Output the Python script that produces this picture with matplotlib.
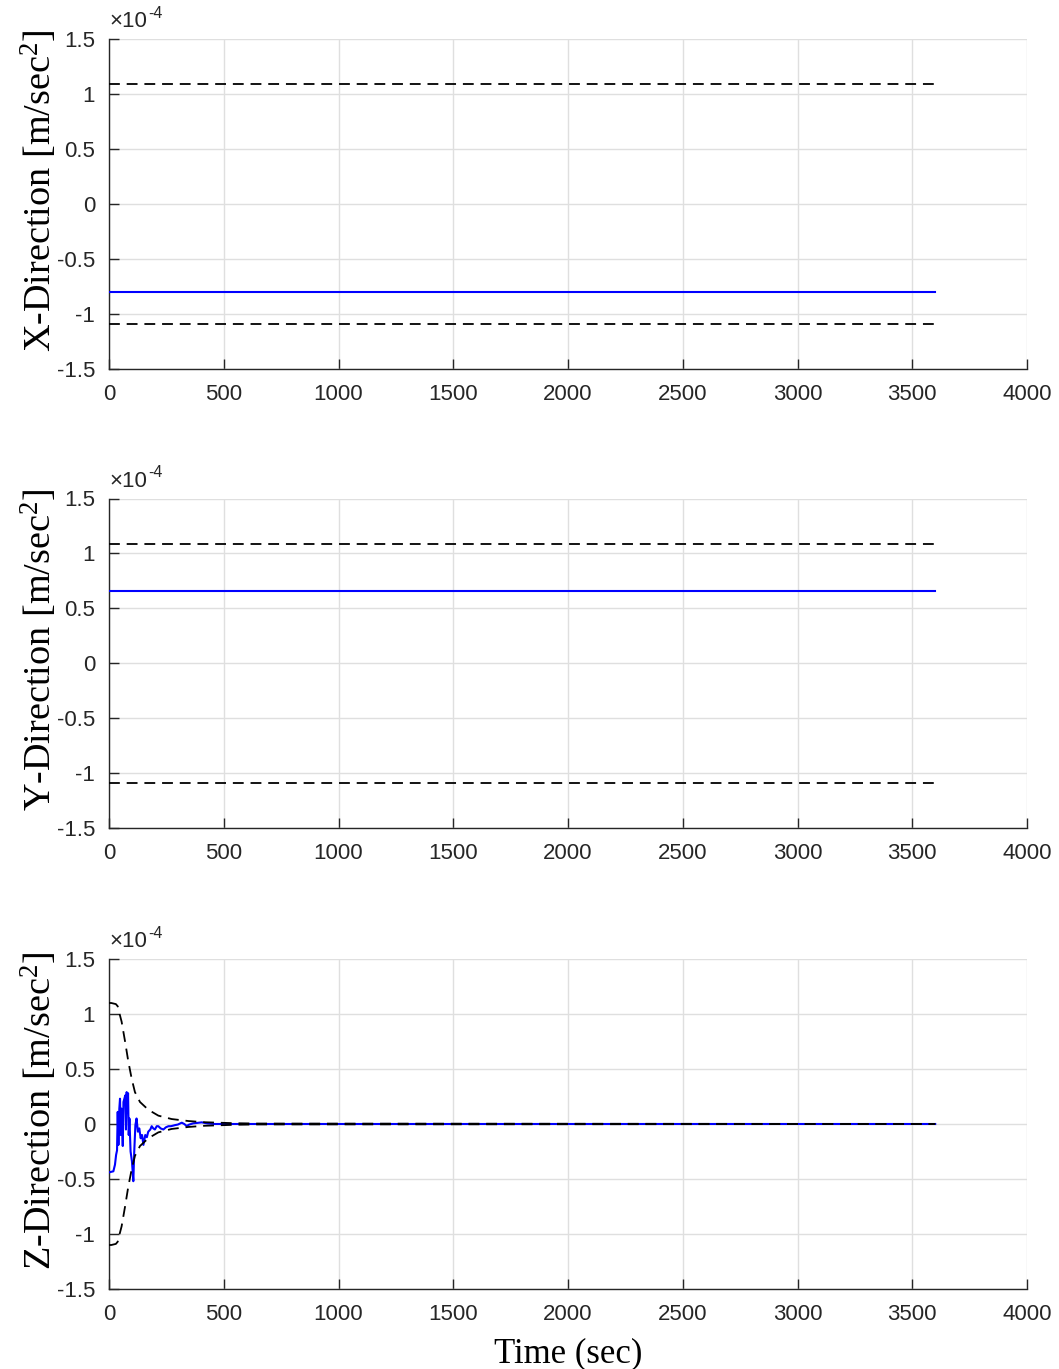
import matplotlib
matplotlib.use("Agg")
import matplotlib.pyplot as plt
import numpy as np

# ---- data (values in units of 1e-4 m/sec^2) ----
t_const = [0, 3600]
x_est = [-0.80, -0.80]
x_bound = [1.09, 1.09]
y_est = [0.66, 0.66]
y_bound = [1.09, 1.09]

z_t = [0, 19, 26, 31, 35, 38, 41, 45, 48, 51,
       54, 57, 60, 63, 67, 71, 74, 77, 80, 83,
       86, 89, 94, 100, 106, 110, 115, 120, 126, 132,
       138, 144, 150, 158, 165, 171, 180, 186, 193, 200,
       208, 215, 225, 237, 248, 259, 270, 288, 300, 317,
       328, 338, 350, 367, 385, 404, 430, 460, 500, 3600]
z_est = [-0.44, -0.43, -0.37, -0.28, -0.24, 0.11, -0.19, 0.14, 0.23, -0.10,
         0.14, -0.01, -0.20, 0.20, 0.23, 0.26, -0.05, 0.29, 0.10, 0.28,
         -0.10, 0.05, -0.25, -0.34, -0.52, -0.25, -0.01, 0.05, -0.07, -0.04,
         -0.13, -0.10, -0.19, -0.10, -0.12, -0.07, -0.05, -0.02, -0.04, -0.05,
         -0.02, -0.02, -0.04, -0.05, -0.03, -0.02, -0.02, -0.01, -0.005, 0.012,
         0.0, -0.018, -0.005, 0.006, 0.01, 0.015, 0.005, 0.0, 0.0, 0.0]

zb_t = [0, 10, 20, 30, 38, 45, 55, 70, 84, 99, 113, 135, 171, 215, 273,
        346, 418, 476, 550, 650, 3600]
zb_upper = [1.10, 1.10, 1.095, 1.09, 1.07, 1.01, 0.93, 0.75, 0.57, 0.41, 0.29,
            0.20, 0.13, 0.076, 0.045, 0.027, 0.016, 0.012, 0.007, 0.004, 0.0]
zb_lower = [-v for v in zb_upper]

ylabels = ["X-Direction [m/sec$\\mathregular{^2}$]",
           "Y-Direction [m/sec$\\mathregular{^2}$]",
           "Z-Direction [m/sec$\\mathregular{^2}$]"]
xticks = [0, 500, 1000, 1500, 2000, 2500, 3000, 3500, 4000]
yticks = [-1.5, -1, -0.5, 0, 0.5, 1, 1.5]
yticklabels = ["-1.5", "-1", "-0.5", "0", "0.5", "1", "1.5"]

W, H = 1059, 1369
fig = plt.figure(figsize=(W / 100, H / 100), dpi=100)

left = 109 / W
width = (1027 - 109) / W
tops = [39, 498.5, 959]
bottoms = [369, 828, 1289]

sans = "Liberation Sans"
serif = "Liberation Serif"
axcol = "#262626"
gridcol = "#dfdfdf"

series = [
    (t_const, x_est, t_const, x_bound, [-b for b in x_bound]),
    (t_const, y_est, t_const, y_bound, [-b for b in y_bound]),
    (z_t, z_est, zb_t, zb_upper, zb_lower),
]

for i in range(3):
    b = 1 - bottoms[i] / H
    h = (bottoms[i] - tops[i]) / H
    ax = fig.add_axes([left, b, width, h])
    te, ve, tb, up, lo = series[i]
    ax.plot(te, ve, color="#0000ff", lw=1.5, zorder=3)
    ax.plot(tb, up, color="black", lw=1.3, dashes=(6, 3.8), zorder=4)
    ax.plot(tb, lo, color="black", lw=1.3, dashes=(6, 3.8), zorder=4)
    ax.set_xlim(0, 4000)
    ax.set_ylim(-1.5, 1.5)
    ax.set_xticks(xticks)
    ax.set_xticklabels([str(v) for v in xticks], fontfamily=sans, fontsize=16)
    ax.set_yticks(yticks)
    ax.set_yticklabels(yticklabels, fontfamily=sans, fontsize=16)
    ax.grid(True, color=gridcol, lw=1.0)
    ax.set_axisbelow(True)
    for s in ["top", "right"]:
        ax.spines[s].set_visible(False)
    for s in ["left", "bottom"]:
        ax.spines[s].set_color(axcol)
        ax.spines[s].set_linewidth(1.0)
    ax.tick_params(axis="both", direction="in", length=7.2, width=1.0,
                   color=axcol, labelcolor=axcol)
    ax.tick_params(axis="y", pad=10)
    ax.tick_params(axis="x", pad=11)
    ax.set_ylabel(ylabels[i], fontfamily=serif, fontsize=27.5, color="black")
    ax.yaxis.set_label_coords(-0.054, 0.54)
    ax.annotate("\u00d710", xy=(0.0, 1.0), xycoords="axes fraction",
                xytext=(0, 5), textcoords="offset points",
                fontfamily=sans, fontsize=16, color=axcol, ha="left", va="bottom")
    ax.annotate("-4", xy=(0.0, 1.0), xycoords="axes fraction",
                xytext=(28, 13), textcoords="offset points",
                fontfamily=sans, fontsize=11.5, color=axcol, ha="left", va="bottom")
    if i == 2:
        ax.set_xlabel("Time (sec)", fontfamily=serif, fontsize=25, color="black")
        ax.xaxis.set_label_coords(0.5, -0.145)

fig.savefig("out.png", dpi=100)
